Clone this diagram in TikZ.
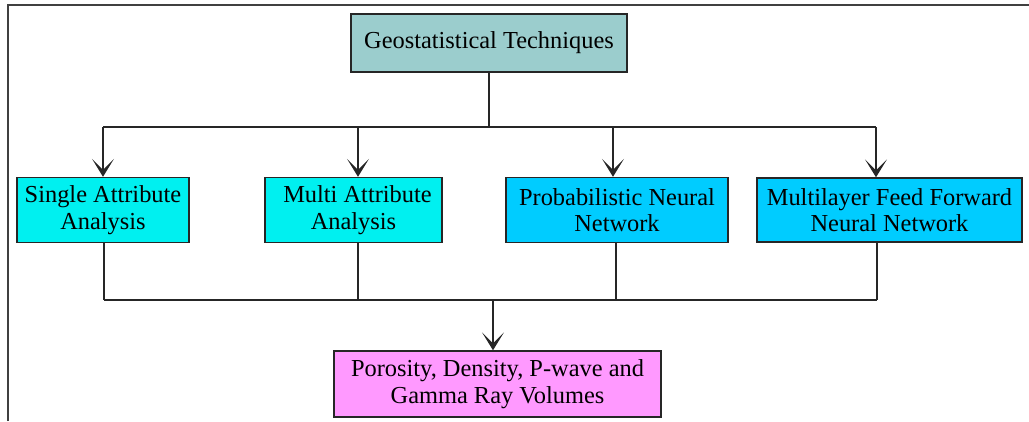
\documentclass[tikz,border=0pt]{standalone}
\usepackage{fontspec}
\setmainfont{Liberation Serif}
\usepackage{tikz}
\usetikzlibrary{arrows.meta}

\definecolor{geoteal}{RGB}{155,205,205}
\definecolor{attrcyan}{RGB}{0,240,240}
\definecolor{nnblue}{RGB}{0,204,255}
\definecolor{volpink}{RGB}{255,153,255}

\tikzset{
	box/.style={draw=black!85,line width=1.4pt,align=center,inner sep=0pt,
		font=\fontsize{24.4}{26.5}\selectfont},
	link/.style={draw=black!85,line width=1.4pt},
	arr/.style={link,-{Stealth[length=18pt,width=22pt,inset=11pt]}}
}

\begin{document}
\begin{tikzpicture}[x=1pt,y=-1pt]
			\useasboundingbox (0,0) rectangle (1029,421);
			% frame
			\draw[black!75,line width=1.3pt] (8,421) -- (8,5) -- (1029,5);

			\node[box,fill=geoteal,minimum width=276pt,minimum height=58pt] (geo) at (489,43)
			{Geostatistical Techniques};

			\node[box,fill=attrcyan,minimum width=172pt,minimum height=65pt] (single) at (103,210)
			{Single Attribute\\Analysis};
			\node[box,fill=attrcyan,minimum width=177pt,minimum height=65pt] (multi) at (353.5,210)
			{\hspace*{8pt}Multi Attribute\\Analysis};
			\node[box,fill=nnblue,minimum width=222pt,minimum height=65pt] (pnn) at (617,210)
			{Probabilistic Neural\\Network};
			\node[box,fill=nnblue,minimum width=265pt,minimum height=64pt] (mlff) at (889.5,210)
			{Multilayer Feed Forward\\Neural Network};

			\node[box,fill=volpink,minimum width=327pt,minimum height=66pt] (vol) at (497.5,384)
			{Porosity, Density, P-wave and\\Gamma Ray Volumes};

			% top bus
			\coordinate (topbus) at (489,127);
			\coordinate (tl) at (103,127);
			\coordinate (tm) at (358,127);
			\coordinate (tp) at (613,127);
			\coordinate (tr) at (876,127);
			\draw[link] (geo.south) -- (topbus);
			\draw[link] (tl) -- (tr);
			\draw[arr] (tl) -- (single.north);
			\draw[arr] (tm) -- (tm |- multi.north);
			\draw[arr] (tp) -- (tp |- pnn.north);
			\draw[arr] (tr) -- (tr |- mlff.north);

			% bottom bus
			\coordinate (bl) at (104,300);
			\coordinate (bm) at (358,300);
			\coordinate (bp) at (616,300);
			\coordinate (br) at (877,300);
			\coordinate (botbus) at (493,300);
			\draw[link] (bl) -- (br);
			\draw[link] (bl |- single.south) -- (bl);
			\draw[link] (bm |- multi.south) -- (bm);
			\draw[link] (bp |- pnn.south) -- (bp);
			\draw[link] (br |- mlff.south) -- (br);
			\draw[arr] (botbus) -- (botbus |- vol.north);
		\end{tikzpicture}
\end{document}
